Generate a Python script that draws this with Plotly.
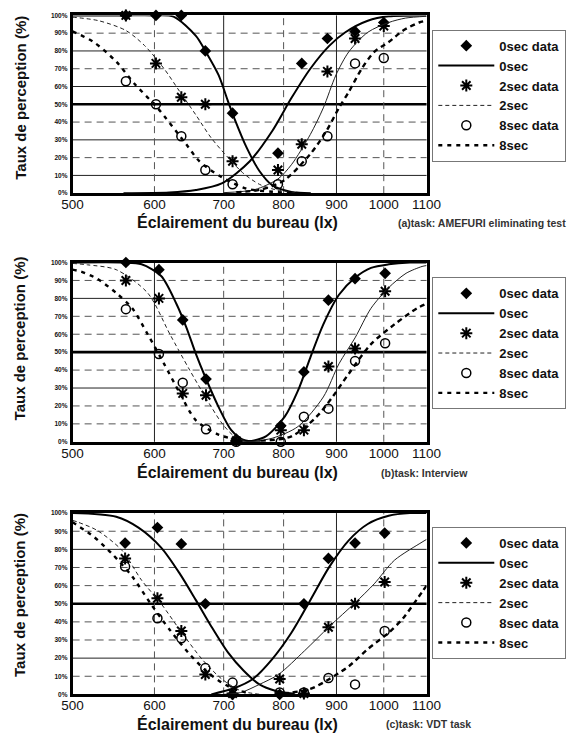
import math
import plotly.graph_objects as go

# ---------------- data ----------------
tick_lux = [500, 600, 700, 800, 900, 1000, 1100]
tick_pct = [0, 10, 20, 30, 40, 50, 60, 70, 80, 90, 100]

# (a) AMEFURI eliminating test
lux_a = [563, 602, 637, 672, 714, 790, 833, 882, 938, 1000]
d0_a = [100, 100, 100, 80, 45, 22.5, 73, 87, 91, 96]
d2_a = [100, 73, 54, 50, 18, 13, 27.5, 68.5, 87, 94]
d8_a = [63, 50, 32, 13, 5, 5, 18, 32, 73, 76]
c0d_a_x = [500, 560, 600, 626, 658, 672, 692, 707, 717, 737, 758, 780, 814, 850]
c0d_a_y = [100, 100, 100, 99.3, 88.5, 80, 66.5, 51.5, 42, 25.5, 12.5, 4.5, 0.7, 0]
c0r_a_x = [560, 620, 658, 697, 742, 780, 814, 849, 886, 918, 965, 1011, 1100]
c0r_a_y = [0, 0.4, 1.8, 5.5, 18, 35, 53.5, 70, 83, 90.5, 97, 99.5, 100]
c2d_a_x = [500, 530, 563, 587, 613, 635, 658, 681, 707, 732, 758, 785, 820]
c2d_a_y = [99, 97, 91.5, 83, 70, 57, 44, 31, 20, 11, 5, 2, 0.5]
c2r_a_x = [700, 750, 790, 814, 849, 874, 899, 925, 965, 1011, 1050, 1100]
c2r_a_y = [0.3, 2, 8, 16, 33, 48, 66.5, 79.5, 90.5, 96, 98.5, 99.5]
c8d_a_x = [500, 524, 551, 575, 604, 644, 663, 697, 737, 780, 830]
c8d_a_y = [91, 85, 74, 61, 48, 27.5, 18, 9, 2.5, 0.8, 0]
c8r_a_x = [720, 760, 800, 849, 880, 905, 925, 952, 979, 1011, 1044, 1082, 1100]
c8r_a_y = [0.5, 2, 7, 22, 35, 48, 57, 70, 79.5, 85, 91.5, 96, 97]

# (b) Interview
lux_b = [563, 606, 639, 673, 720, 795, 837, 884, 938, 1003]
d0_b = [100, 96, 68, 35, 1.5, 9, 39, 79, 91, 94]
d2_b = [90, 80, 27, 26, 0.5, 6.5, 6.5, 42, 52, 84]
d8_b = [74, 49, 33, 7, 0, 0, 14, 18.5, 45, 55]
c0d_b_x = [500, 560, 583, 609, 630, 644, 658, 672, 692, 712, 732, 760]
c0d_b_y = [100, 100, 99, 92.5, 77, 64, 49, 36, 19.5, 6.5, 1, 0]
c0r_b_x = [720, 745, 769, 802, 826, 849, 874, 905, 938, 972, 1011, 1060, 1100]
c0r_b_y = [0, 0.5, 3, 14, 28.5, 47, 65.5, 82, 91.5, 97, 99, 100, 100]
c2d_b_x = [500, 517, 551, 591, 621, 649, 672, 697, 717, 740]
c2d_b_y = [99.5, 98.7, 96, 83, 60, 40, 25, 10.5, 3, 0]
c2r_b_x = [740, 780, 826, 874, 905, 938, 972, 1011, 1051, 1089, 1100]
c2r_b_y = [0, 2, 8.5, 25, 43.5, 58, 74.5, 86, 94, 97.8, 98.3]
c8d_b_x = [500, 509, 528, 551, 571, 591, 613, 635, 658, 692, 730]
c8d_b_y = [96, 95, 91, 83, 74.5, 60, 43.5, 27, 12, 4, 0.5]
c8r_b_x = [760, 814, 861, 892, 925, 972, 1024, 1077, 1100]
c8r_b_y = [0.5, 3, 14, 25, 38, 54.5, 65.5, 74.5, 77]

# (c) VDT task
lux_c = [562, 604, 637, 672, 714, 793, 837, 884, 938, 1002]
d0_c = [83.5, 92, 83, 50, 0, 0, 50, 75, 83.5, 89]
d2_c = [75, 53, 35, 11, 0.5, 8.5, 0.5, 37, 50, 62]
d8_c = [70.5, 42, 31, 14.5, 6.5, 1, 1, 9, 5.5, 35]
c0d_c_x = [500, 551, 579, 609, 635, 658, 681, 707, 732, 758, 785, 820]
c0d_c_y = [100, 98, 92, 81, 66.5, 52, 37.5, 23, 13, 5.5, 2, 0.3]
c0r_c_x = [681, 717, 747, 780, 814, 849, 886, 925, 965, 1011, 1060, 1100]
c0r_c_y = [0, 3.5, 8.5, 19.5, 34, 52, 70.5, 85, 94, 98.5, 100, 100]
c2d_c_x = [500, 506, 528, 558, 583, 609, 635, 668, 697, 727, 760]
c2d_c_y = [96, 95, 90.5, 79.5, 63, 50, 35.5, 19, 8.5, 2, 0]
c2r_c_x = [700, 727, 758, 791, 838, 886, 938, 979, 1024, 1089, 1100]
c2r_c_y = [0, 1, 5.5, 11, 24, 37.5, 50.5, 61, 74, 84, 85.5]
c8d_c_x = [500, 524, 546, 571, 595, 621, 647, 676, 707, 740]
c8d_c_y = [95, 87, 77.5, 65, 50, 35.5, 23, 12, 4.5, 0.5]
c8r_c_x = [800, 849, 886, 925, 965, 1011, 1044, 1089, 1100]
c8r_c_y = [0.5, 3, 8.5, 15.5, 25, 34, 42, 56.5, 60]

captions = ["(a)task: AMEFURI eliminating test", "(b)task: Interview", "(c)task: VDT task"]
series_names = ["0sec data", "0sec", "2sec data", "2sec", "8sec data", "8sec"]
x_title = "Éclairement du bureau (lx)"
y_title = "Taux de perception (%)"

# ---------------- layout geometry (pixels of the 582x737 page) ----------------
W, H = 582, 737
FONT = "Liberation Sans, Arial, sans-serif"
px_x0, px_x1 = 64.5, 435.0
panel_px = [(11.5, 191.0), (261.0, 442.0), (514.0, 697.0)]   # top, bottom of each plot box
ytitle_cy = [95, 338, 597]
ytitle_cx = 9
xtitle_cy = [220, 472, 727]
caption_pos = [(403, 221), (385, 473), (390, 727)]
legend_top = [26, 276, 528]

grid_specs = [
    dict(h=[(10, 's'), (20, 'd'), (30, 's'), (40, 'd'), (50, 't'), (60, 's'), (70, 'd'), (80, 's'), (90, 'd')],
         v=[(600, 'd'), (700, 's'), (800, 'd'), (900, 's'), (1000, 'd')]),
    dict(h=[(10, 'd'), (20, 'd'), (30, 's'), (40, 'd'), (50, 't'), (60, 'd'), (70, 'd'), (80, 's'), (90, 'd')],
         v=[(600, 's'), (700, 'd'), (800, 'd'), (900, 's'), (1000, 'd')]),
    dict(h=[(10, 'd'), (20, 's'), (30, 'd'), (40, 'd'), (50, 't'), (60, 'd'), (70, 'd'), (80, 's'), (90, 'd')],
         v=[(600, 'd'), (700, 'd'), (800, 'd'), (900, 's'), (1000, 'd')]),
]
grid_line = {'s': dict(color="#222", width=1),
             'd': dict(color="#555", width=1, dash="7px,5px"),
             't': dict(color="black", width=2.6)}

panels = [
    dict(lux=lux_a, d=[d0_a, d2_a, d8_a],
         c=[(c0d_a_x, c0d_a_y, c0r_a_x, c0r_a_y), (c2d_a_x, c2d_a_y, c2r_a_x, c2r_a_y), (c8d_a_x, c8d_a_y, c8r_a_x, c8r_a_y)]),
    dict(lux=lux_b, d=[d0_b, d2_b, d8_b],
         c=[(c0d_b_x, c0d_b_y, c0r_b_x, c0r_b_y), (c2d_b_x, c2d_b_y, c2r_b_x, c2r_b_y), (c8d_b_x, c8d_b_y, c8r_b_x, c8r_b_y)]),
    dict(lux=lux_c, d=[d0_c, d2_c, d8_c],
         c=[(c0d_c_x, c0d_c_y, c0r_c_x, c0r_c_y), (c2d_c_x, c2d_c_y, c2r_c_x, c2r_c_y), (c8d_c_x, c8d_c_y, c8r_c_x, c8r_c_y)]),
]

marker_styles = [
    dict(symbol="diamond", size=9, color="black"),
    dict(symbol="asterisk-open", size=10, color="black", line=dict(color="black", width=2)),
    dict(symbol="circle-open", size=9, color="black", line=dict(color="black", width=1.5)),
]
# (decreasing-branch style, rising-branch style)
curve_styles = [
    (dict(color="black", width=2), dict(color="black", width=2)),
    (dict(color="#222", width=1, dash="4px,3px"), dict(color="#222", width=1)),
    (dict(color="black", width=2.4, dash="4px,5px"), dict(color="black", width=2.4, dash="5px,4px")),
]

fig = go.Figure()
shapes = []
annotations = []
layout_axes = {}

for k, p in enumerate(panels):
    sfx = "" if k == 0 else str(k + 1)
    xa, ya = "x" + sfx, "y" + sfx
    leg = "legend" + sfx
    for s in range(3):
        fig.add_trace(go.Scatter(
            x=p["lux"], y=p["d"][s], mode="markers", name=series_names[2 * s],
            marker=marker_styles[s], xaxis=xa, yaxis=ya, legend=leg, cliponaxis=False))
        dx, dy, rx, ry = p["c"][s]
        dec_style, rise_style = curve_styles[s]
        fig.add_trace(go.Scatter(
            x=dx, y=dy, mode="lines", name=series_names[2 * s + 1],
            line=dict(shape="spline", smoothing=0.8, **dec_style), xaxis=xa, yaxis=ya, legend=leg))
        fig.add_trace(go.Scatter(
            x=rx, y=ry, mode="lines", name=series_names[2 * s + 1], showlegend=False,
            line=dict(shape="spline", smoothing=0.8, **rise_style), xaxis=xa, yaxis=ya, legend=leg))

    top, bot = panel_px[k]
    xdom = [px_x0 / W, px_x1 / W]
    ydom = [1 - bot / H, 1 - top / H]
    layout_axes["xaxis" + sfx] = dict(
        type="log", range=[math.log10(500), math.log10(1100)], domain=xdom, anchor=ya,
        showgrid=False, zeroline=False, showline=True, linewidth=2.6, linecolor="black", mirror=True,
        ticks="", tickvals=tick_lux, ticktext=[str(v) for v in tick_lux],
        tickfont=dict(family=FONT, size=13.5, color="#111"), ticklabelstandoff=-3)
    layout_axes["yaxis" + sfx] = dict(
        range=[0, 100], domain=ydom, anchor=xa,
        showgrid=False, zeroline=False, showline=True, linewidth=2.6, linecolor="black", mirror=True,
        ticks="", tickvals=tick_pct, ticktext=[f"{v}%" for v in tick_pct],
        tickfont=dict(family=FONT, size=6.5, color="#111", weight="bold"), ticklabelstandoff=1)

    g = grid_specs[k]
    for val, st in g["h"]:
        shapes.append(dict(type="line", xref=xa + " domain", yref=ya, x0=0, x1=1, y0=val, y1=val,
                           line=grid_line[st], layer="below"))
    for val, st in g["v"]:
        shapes.append(dict(type="line", xref=xa, yref=ya + " domain", x0=val, x1=val, y0=0, y1=1,
                           line=grid_line[st], layer="below"))

    annotations.append(dict(text=y_title, textangle=-90, xref="paper", yref="paper",
                            x=ytitle_cx / W, y=1 - ytitle_cy[k] / H, xanchor="center", yanchor="middle",
                            showarrow=False, font=dict(family=FONT, size=15, color="#111", weight="bold")))
    annotations.append(dict(text=x_title, xref="paper", yref="paper",
                            x=237 / W, y=1 - xtitle_cy[k] / H, xanchor="center", yanchor="middle",
                            showarrow=False, font=dict(family=FONT, size=16, color="#111", weight="bold")))
    cx, cy = caption_pos[k]
    annotations.append(dict(text=captions[k], xref="paper", yref="paper",
                            x=cx / W, y=1 - cy / H, xanchor="left", yanchor="middle",
                            showarrow=False, font=dict(family=FONT, size=10.5, color="#333", weight="bold")))

    layout_axes[leg] = dict(x=441 / W, y=1 - legend_top[k] / H, xanchor="left", yanchor="top",
                            bordercolor="#777", borderwidth=1, bgcolor="white",
                            font=dict(family=FONT, size=13, color="#111", weight="bold"),
                            itemwidth=56, tracegroupgap=0, traceorder="normal")

fig.update_layout(
    width=W, height=H, margin=dict(l=0, r=0, t=0, b=0),
    paper_bgcolor="white", plot_bgcolor="white", showlegend=True,
    shapes=shapes, annotations=annotations, **layout_axes)

fig.write_html("out.html", config={"displayModeBar": False},
               post_script="document.body.style.margin='0';document.body.style.padding='0';")
